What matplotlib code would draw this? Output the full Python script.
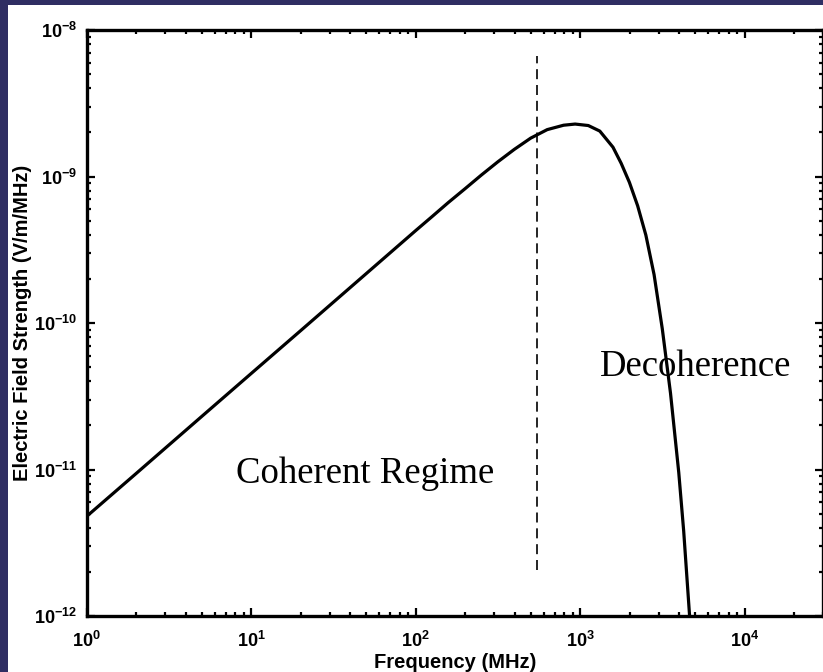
import numpy as np
import matplotlib
matplotlib.use('Agg')
import matplotlib.pyplot as plt
from matplotlib.ticker import FuncFormatter, LogLocator, NullFormatter
from matplotlib.patches import Rectangle

# spectrum (MHz, V/m/MHz)
freq_mhz = [1, 2, 5, 10, 20, 50, 100, 126, 158, 200, 251, 316, 398, 501,
            631, 794, 933, 1122, 1318, 1585, 1778, 1995, 2239, 2512, 2818,
            3162, 3548, 3981, 4266, 4634]
field = [4.79e-12, 9.40e-12, 2.30e-11, 4.52e-11, 8.87e-11, 2.17e-10,
         4.27e-10, 5.33e-10, 6.64e-10, 8.26e-10, 1.023e-9, 1.259e-9,
         1.531e-9, 1.828e-9, 2.089e-9, 2.239e-9, 2.28e-9, 2.228e-9,
         2.042e-9, 1.585e-9, 1.23e-9, 9.12e-10, 6.31e-10, 3.98e-10,
         2.14e-10, 9.12e-11, 3.31e-11, 9.55e-12, 3.80e-12, 1.0e-12]

# coherence boundary
boundary_freq = [544, 544]
boundary_field = [2.06e-12, 6.65e-9]

x_limits = [1, 3e4]
y_limits = [1e-12, 1e-8]

plt.rcParams['mathtext.fontset'] = 'custom'
plt.rcParams['mathtext.rm'] = 'Liberation Sans:bold'
plt.rcParams['mathtext.it'] = 'Liberation Sans:bold'
plt.rcParams['mathtext.bf'] = 'Liberation Sans:bold'
plt.rcParams['font.family'] = 'Liberation Sans'

W, H = 823, 672
fig = plt.figure(figsize=(W / 100, H / 100), dpi=100, facecolor='white')
frame_col = '#2f2e63'
fig.patches.append(Rectangle((0, 0), 8 / W, 1, transform=fig.transFigure,
                             facecolor=frame_col, edgecolor='none', zorder=-5))
fig.patches.append(Rectangle((0, 1 - 5 / H), 1, 5 / H, transform=fig.transFigure,
                             facecolor=frame_col, edgecolor='none', zorder=-5))

ax = fig.add_axes([86.7 / W, (H - 616) / H, (823 - 86.7) / W, (616 - 30) / H])
ax.plot(freq_mhz, field, color='black', lw=2.3, solid_joinstyle='round')
ax.plot(boundary_freq, boundary_field, color='black', lw=1.2,
        linestyle=(0, (6, 3.5)))

ax.set_xscale('log')
ax.set_yscale('log')
ax.set_xlim(x_limits)
ax.set_ylim(y_limits)

fmt = FuncFormatter(lambda v, p: r'$10^{%d}$' % round(np.log10(v)))
for axis in (ax.xaxis, ax.yaxis):
    axis.set_major_formatter(fmt)
    axis.set_minor_formatter(NullFormatter())
    axis.set_major_locator(LogLocator(base=10, numticks=10))
    axis.set_minor_locator(LogLocator(base=10, subs=np.arange(2, 10), numticks=20))

ax.tick_params(which='both', direction='in', top=True, right=True, width=1.6,
               labelsize=13)
ax.tick_params(which='major', length=6, pad=7)
ax.tick_params(axis='x', which='major', pad=11)
ax.tick_params(which='minor', length=3)
for s in ax.spines.values():
    s.set_linewidth(2.4)

ax.set_xlabel('Frequency (MHz)', fontsize=14.5, fontweight='bold', labelpad=1)
ax.set_ylabel('Electric Field Strength (V/m/MHz)', fontsize=14.5,
              fontweight='bold', labelpad=1)

ax.text(8.05, 8.1e-12, 'Coherent Regime', family='Liberation Serif',
        fontsize=26.5, ha='left', va='baseline')
ax.text(1315, 4.35e-11, 'Decoherence', family='Liberation Serif',
        fontsize=26.5, ha='left', va='baseline')

fig.savefig('out.png', dpi=100, facecolor=fig.get_facecolor())
